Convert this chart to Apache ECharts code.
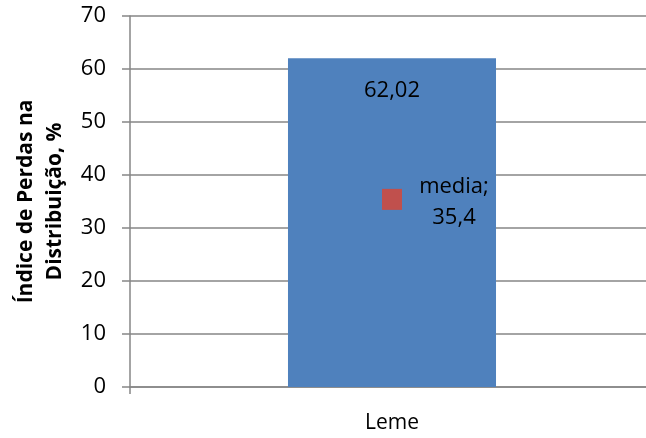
<!DOCTYPE html>
<html><head><meta charset="utf-8">
<script src="https://cdn.jsdelivr.net/npm/echarts@6/dist/echarts.min.js"></script>
<style>html,body{margin:0;padding:0;background:#fff}#c{width:646px;height:438px}</style>
</head><body><div id="c"></div>
<script>
const categories = ['Leme'];
const barValues = [62.02];
const mediaName = 'media';
const mediaValues = [35.4];
const yTicks = [0, 10, 20, 30, 40, 50, 60, 70];
const yAxisTitle = 'Índice de Perdas na\nDistribuição, %';

const fmt = v => String(v).replace('.', ',');
const FONT = '"Open Sans", "Liberation Sans", sans-serif';
const chart = echarts.init(document.getElementById('c'));
chart.setOption({
  animation: false,
  textStyle: { fontFamily: FONT },
  grid: { left: 130, width: 524, top: 16, bottom: 51, containLabel: false, outerBoundsMode: 'none' },
  xAxis: {
    type: 'category', data: categories, boundaryGap: true,
    axisLine: { lineStyle: { color: '#868686', width: 1.5 } },
    axisTick: { show: true, length: 7, lineStyle: { color: '#868686', width: 1.5 } },
    axisLabel: { color: '#000', fontSize: 21, margin: 26, fontFamily: FONT }
  },
  yAxis: {
    type: 'value', min: yTicks[0], max: yTicks[yTicks.length - 1], interval: 10,
    name: yAxisTitle, nameLocation: 'middle', nameGap: 56, nameRotate: 90,
    nameTextStyle: { color: '#000', fontSize: 21, fontWeight: 'bold', lineHeight: 29, fontFamily: FONT },
    axisLine: { show: true, lineStyle: { color: '#868686', width: 1.5 } },
    axisTick: { show: true, length: 8, lineStyle: { color: '#868686', width: 1.5 } },
    axisLabel: { color: '#000', fontSize: 22, margin: 24, fontFamily: FONT },
    splitLine: { lineStyle: { color: '#868686', width: 1.5 } }
  },
  series: [
    {
      type: 'bar', data: barValues, barWidth: '39.7%',
      itemStyle: { color: '#4F81BD' },
      label: { show: true, position: 'insideTop', distance: 21, color: '#000', fontSize: 22, fontFamily: FONT,
               formatter: p => fmt(p.value) }
    },
    {
      type: 'scatter', name: mediaName, data: mediaValues, symbol: 'rect', symbolSize: [20, 21],
      itemStyle: { color: '#C0504D', opacity: 1 },
      label: { show: true, position: 'right', distance: 16, color: '#000', fontSize: 22, align: 'center',
               lineHeight: 31, fontFamily: FONT, offset: [36, 3],
               formatter: p => p.seriesName + ';\n' + fmt(p.value) }
    }
  ]
});
</script></body></html>
